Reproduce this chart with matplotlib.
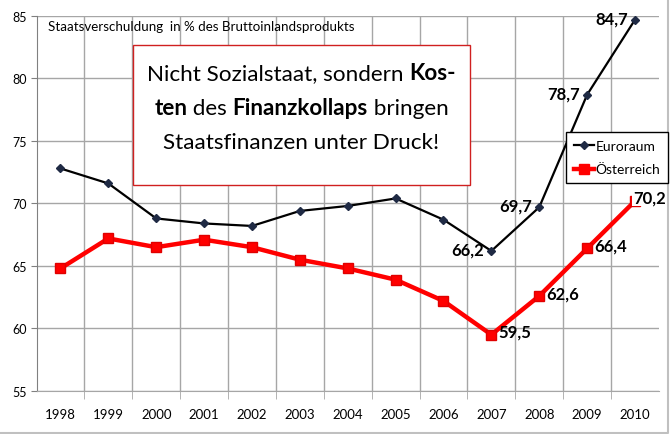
import matplotlib.pyplot as plt
from matplotlib.offsetbox import TextArea, HPacker, VPacker, AnchoredOffsetbox
from matplotlib.lines import Line2D
from matplotlib.patches import Rectangle

plt.rcParams['font.family'] = ['Lato', 'DejaVu Sans']

# Daten
jahre = ['1998', '1999', '2000', '2001', '2002', '2003', '2004',
         '2005', '2006', '2007', '2008', '2009', '2010']
euroraum = [72.8, 71.6, 68.8, 68.4, 68.2, 69.4, 69.8, 70.4, 68.7, 66.2, 69.7, 78.7, 84.7]
oesterreich = [64.8, 67.2, 66.5, 67.1, 66.5, 65.5, 64.8, 63.9, 62.2, 59.5, 62.6, 66.4, 70.2]

# Jahre mit Beschriftung
euro_labels = ['2007', '2008', '2009', '2010']
oe_labels = ['2007', '2008', '2009', '2010']

fig = plt.figure(figsize=(6.7, 4.35), dpi=100)
ax = fig.add_axes([0.0545, 0.099, 0.929, 0.862])

x = list(range(len(jahre)))
ax.plot(x, oesterreich, color='#ff0000', lw=3.2, marker='s', ms=6.5,
        markeredgecolor='#e00000', label='Österreich', zorder=3)
ax.plot(x, euroraum, color='black', lw=1.6, marker='D', ms=3.8,
        markerfacecolor='#1f2a44', markeredgecolor='#1f2a44', label='Euroraum', zorder=4)

ax.set_xlim(-0.5, len(jahre) - 0.5)
ax.set_ylim(55, 85)
ax.set_yticks([55, 60, 65, 70, 75, 80, 85])
ax.set_xticks(x)
ax.set_xticklabels(jahre, fontsize=9.5)
ax.tick_params(axis='y', labelsize=9, length=4, color='#808080', pad=3)
ax.tick_params(axis='x', length=0, pad=12)

# Gitter: horizontale Linien und vertikale Linien zwischen den Kategorien
ax.grid(axis='y', color='#a6a6a6', lw=1)
ax.set_xticks([i + 0.5 for i in x[:-1]], minor=True)
ax.grid(axis='x', which='minor', color='#a6a6a6', lw=1)
ax.tick_params(axis='x', which='minor', length=6, color='#a6a6a6')
ax.set_axisbelow(True)
for s in ['top', 'right']:
    ax.spines[s].set_visible(False)
ax.spines['left'].set_color('#808080')
ax.spines['bottom'].set_color('#a6a6a6')

# Datenbeschriftungen
for j in euro_labels:
    i = jahre.index(j)
    txt = f'{euroraum[i]:.1f}'.replace('.', ',')
    ax.annotate(txt, (i, euroraum[i]), xytext=(-5, 1), textcoords='offset points',
                ha='right', va='center', fontsize=12, fontweight='bold', zorder=6)
for j in oe_labels:
    i = jahre.index(j)
    txt = f'{oesterreich[i]:.1f}'.replace('.', ',')
    if j == '2010':
        # Beschriftung liegt mit weißem Hintergrund über dem Punkt
        ax.annotate(txt, (i, oesterreich[i]), xytext=(-1.5, 2.5), textcoords='offset points',
                    ha='left', va='center', fontsize=12, fontweight='bold', zorder=6,
                    bbox=dict(facecolor='white', edgecolor='none', pad=0.5))
    else:
        ax.annotate(txt, (i, oesterreich[i]), xytext=(5, 2), textcoords='offset points',
                    ha='left', va='center', fontsize=12, fontweight='bold', zorder=6)

# Titel im Diagramm
fig.text(0.072, 0.938, 'Staatsverschuldung  in % des Bruttoinlandsprodukts',
         fontsize=9.6, va='center', ha='left')

# Textbox mit gemischt fetter Schrift
fig.add_artist(Rectangle((133 / 670, 1 - 186 / 435), 337 / 670, 140 / 435,
                         transform=fig.transFigure, facecolor='white',
                         edgecolor='#d02020', lw=1, zorder=5))


def zeile(teile):
    return HPacker(children=[TextArea(t, textprops=dict(fontsize=16.2, fontweight=w))
                             for t, w in teile], sep=0, pad=0, align='baseline')


zeilen = VPacker(children=[
    zeile([('Nicht Sozialstaat, sondern ', 'normal'), ('Kos-', 'bold')]),
    zeile([('ten', 'bold'), (' des ', 'normal'), ('Finanzkollaps', 'bold'), (' bringen', 'normal')]),
    zeile([('Staatsfinanzen unter Druck!', 'normal')]),
], sep=10, pad=0, align='center')
box = AnchoredOffsetbox(loc='upper center', child=zeilen, pad=0, borderpad=0,
                        bbox_to_anchor=(301.5 / 670, 1 - 63 / 435), bbox_transform=fig.transFigure,
                        frameon=False)
box.set_zorder(6)
fig.add_artist(box)

# Legende
handles = [Line2D([], [], color='black', lw=1.6, marker='D', ms=3.8,
                  markerfacecolor='#1f2a44', markeredgecolor='#1f2a44'),
           Line2D([], [], color='#ff0000', lw=3.2, marker='s', ms=6.5)]
leg = fig.legend(handles, ['Euroraum', 'Österreich'], loc='upper right',
                 bbox_to_anchor=(668 / 670, 1 - 133 / 435), fontsize=10,
                 frameon=True, fancybox=False, edgecolor='black', framealpha=1,
                 handlelength=1.45, handletextpad=0.1, borderpad=0.55, labelspacing=0.85,
                 borderaxespad=0)
leg.get_frame().set_linewidth(1)

# Rahmen um das Diagramm
fig.add_artist(Line2D([0, 668 / 670, 668 / 670], [1.5 / 435, 1.5 / 435, 1], color='#c0c0c0',
                      lw=1.5, transform=fig.transFigure))

fig.savefig('out.png', dpi=100)
